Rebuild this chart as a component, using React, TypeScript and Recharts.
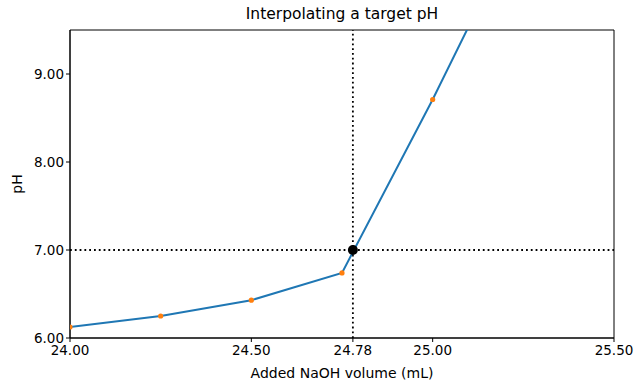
import { ComposedChart, Line, Scatter, XAxis, YAxis, ReferenceLine, ReferenceArea, Label } from 'recharts'

// titration readings around the equivalence point
const volumes = [24.0, 24.25, 24.5, 24.75, 25.0, 25.25]
const phValues = [6.125, 6.25, 6.43, 6.74, 8.71, 10.8]

// interpolated volume for the target pH
const targetPh = 7.0
const targetVolume = 24.78

const xTicks = [24.0, 24.5, 24.78, 25.0, 25.5]
const yTicks = [6.0, 7.0, 8.0, 9.0]

const readings = volumes.map((v, i) => ({ volume: v, ph: phValues[i] }))
const target = [{ volume: targetVolume, ph: targetPh }]

const font = 'DejaVu Sans, sans-serif'

export default function App() {
  return (
    <div style={{ position: 'absolute', left: 0, top: 0, width: 642, height: 392, background: '#fff', fontFamily: font }}>
      <div style={{ position: 'absolute', top: 5, left: 70, width: 544, textAlign: 'center', fontSize: 15.5, color: '#000' }}>
        Interpolating a target pH
      </div>
      <ComposedChart width={642} height={392} margin={{ top: 30, right: 28, bottom: 24, left: 10 }}>
        <XAxis
          dataKey="volume"
          type="number"
          domain={[24.0, 25.5]}
          ticks={xTicks}
          allowDataOverflow
          interval={0}
          tickFormatter={(v: number) => v.toFixed(2)}
          tick={{ fill: '#000', fontSize: 13.5, fontFamily: font }}
          tickSize={4}
          tickMargin={3}
          stroke="#000"
          height={30}
        >
          <Label value="Added NaOH volume (mL)" position="insideBottom" offset={-10} style={{ fill: '#000', fontSize: 14, fontFamily: font }} />
        </XAxis>
        <YAxis
          dataKey="ph"
          type="number"
          domain={[6.0, 9.5]}
          ticks={yTicks}
          allowDataOverflow
          interval={0}
          tickFormatter={(v: number) => v.toFixed(2)}
          tick={{ fill: '#000', fontSize: 13.5, fontFamily: font }}
          tickSize={4}
          stroke="#000"
          width={60}
        >
          <Label value="pH" angle={-90} position="insideLeft" offset={7} style={{ fill: '#000', fontSize: 14, fontFamily: font, textAnchor: 'middle' }} />
        </YAxis>
        <ReferenceArea x1={24.0} x2={25.5} y1={6.0} y2={9.5} fill="none" stroke="#000" strokeWidth={1} />
        <ReferenceLine x={targetVolume} stroke="#000" strokeWidth={1.8} strokeDasharray="1.8 3" />
        <ReferenceLine y={targetPh} stroke="#000" strokeWidth={1.8} strokeDasharray="1.8 3" />
        <Line
          data={readings}
          dataKey="ph"
          type="linear"
          stroke="#1f77b4"
          strokeWidth={2}
          dot={{ r: 2.6, fill: '#ff7f0e', stroke: 'none' }}
          activeDot={false}
          isAnimationActive={false}
        />
        <Scatter data={target} dataKey="ph" fill="#000" shape={(p: any) => <circle cx={p.cx} cy={p.cy} r={5} fill="#000" />} isAnimationActive={false} />
      </ComposedChart>
    </div>
  )
}
